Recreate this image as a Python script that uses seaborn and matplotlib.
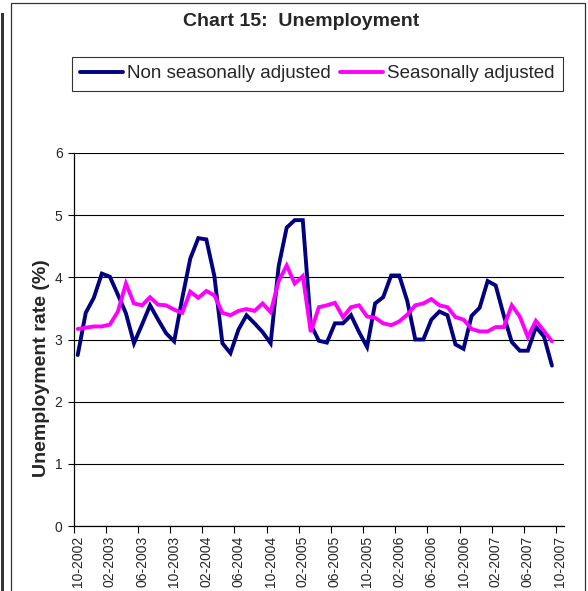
import matplotlib
matplotlib.use("Agg")
import matplotlib.pyplot as plt
from matplotlib.lines import Line2D
from matplotlib.patches import Rectangle
import numpy as np
import pandas as pd
import seaborn as sns

# Monthly unemployment rate (%), October 2002 onwards
non_seasonal = [
    2.75, 3.43, 3.67, 4.06, 4.01, 3.72, 3.42, 2.94, 3.24, 3.55,
    3.32, 3.10, 2.97, 3.66, 4.30, 4.63, 4.61, 4.02, 2.94, 2.78,
    3.16, 3.39, 3.26, 3.12, 2.94, 4.18, 4.80, 4.92, 4.92, 3.24,
    2.98, 2.95, 3.26, 3.26, 3.39, 3.12, 2.88, 3.58, 3.68, 4.03,
    4.03, 3.62, 3.00, 3.00, 3.32, 3.45, 3.39, 2.92, 2.85, 3.38,
    3.51, 3.94, 3.87, 3.39, 2.96, 2.82, 2.82, 3.20, 3.05, 2.58,
]
seasonal = [
    3.17, 3.19, 3.21, 3.21, 3.24, 3.45, 3.90, 3.58, 3.55, 3.68,
    3.56, 3.55, 3.48, 3.43, 3.77, 3.67, 3.78, 3.71, 3.43, 3.39,
    3.46, 3.49, 3.46, 3.58, 3.44, 3.94, 4.19, 3.90, 4.02, 3.12,
    3.52, 3.55, 3.59, 3.36, 3.52, 3.55, 3.37, 3.35, 3.26, 3.23,
    3.29, 3.40, 3.55, 3.58, 3.65, 3.55, 3.52, 3.36, 3.32, 3.17,
    3.13, 3.13, 3.20, 3.20, 3.55, 3.37, 3.04, 3.30, 3.14, 2.97,
]
series_names = ["Non seasonally adjusted", "Seasonally adjusted"]
series_colors = ["#000080", "#FF00FF"]

# Category axis: one slot per month, October 2002 to October 2007
months = pd.period_range("2002-10", "2007-10", freq="M")
tick_labels = [
    "10-2002", "02-2003", "06-2003", "10-2003", "02-2004", "06-2004",
    "10-2004", "02-2005", "06-2005", "10-2005", "02-2006", "06-2006",
    "10-2006", "02-2007", "06-2007", "10-2007",
]
y_ticks = [0, 1, 2, 3, 4, 5, 6]

df = pd.concat([
    pd.DataFrame({"pos": np.arange(len(non_seasonal)), "rate": non_seasonal,
                  "series": series_names[0]}),
    pd.DataFrame({"pos": np.arange(len(seasonal)), "rate": seasonal,
                  "series": series_names[1]}),
])

sns.set_style("white")
plt.rcParams["font.family"] = ["Liberation Sans", "DejaVu Sans"]

W, H = 588, 591
fig = plt.figure(figsize=(W / 100, H / 100), dpi=100)

def fx(px):
    return px / W

def fy(py):
    return 1 - py / H

ax = fig.add_axes([fx(73.7), fy(526), fx(564) - fx(73.7), fy(153) - fy(526)])

palette = dict(zip(series_names, series_colors))
sns.lineplot(data=df, x="pos", y="rate", hue="series", palette=palette,
             linewidth=2.8, ax=ax, legend=False, sort=False)
for ln in ax.lines:
    ln.set_solid_joinstyle("miter")

ax.set_xlim(-0.5, len(months) - 0.5)
ax.set_ylim(0, 6)
ax.set_xlabel("")
ax.set_ylabel("")

# horizontal gridlines
ax.set_yticks(y_ticks)
ax.set_yticklabels([str(t) for t in y_ticks], fontsize=10)
ax.yaxis.grid(True, color="black", linewidth=0.8)
ax.set_axisbelow(True)

# tick marks on slot boundaries, labels centred in the slot
ax.set_xticks(np.arange(-0.5, len(months) - 1, 4))
ax.set_xticklabels([])
ax.set_xticks(np.arange(0, len(months), 4), minor=True)
ax.set_xticklabels(tick_labels, minor=True, rotation=90, fontsize=10,
                   va="top", ha="center")
ax.tick_params(axis="x", which="major", direction="out", length=5,
               width=0.8, color="black", bottom=True)
ax.tick_params(axis="x", which="minor", length=0, pad=7, bottom=True)
ax.tick_params(axis="y", direction="out", length=4, width=0.8,
               color="black", left=True, pad=4)

for side in ("top", "right"):
    ax.spines[side].set_visible(False)
for side in ("left", "bottom"):
    ax.spines[side].set_color("black")
    ax.spines[side].set_linewidth(0.9)

# axis title and chart title
fig.text(fx(42), fy(368), "Unemployment rate (%)", rotation=90,
         ha="center", va="center", fontsize=14, fontweight="bold")
fig.text(fx(301), fy(21), "Chart 15:  Unemployment", ha="center",
         va="center", fontsize=14, fontweight="bold")

handles = [Line2D([0], [0], color=c, linewidth=2.8) for c in series_colors]
leg = fig.legend(handles, series_names, loc="center",
                 bbox_to_anchor=(fx(317.5), fy(73.5)), ncol=2, fontsize=13.5,
                 frameon=True, fancybox=False, edgecolor="black",
                 handlelength=2.3, handletextpad=0.2, columnspacing=0.5,
                 borderpad=0.45, borderaxespad=0)
leg.get_frame().set_linewidth(0.8)

# chart border and page edge
fig.add_artist(Rectangle((fx(11), fy(600)), fx(585) - fx(11), fy(3) - fy(600),
                         transform=fig.transFigure, fill=False,
                         edgecolor="#333333", linewidth=0.9, clip_on=False))
fig.add_artist(Rectangle((fx(1), fy(600)), fx(3), fy(13) - fy(600),
                         transform=fig.transFigure, facecolor="#333333",
                         edgecolor="none", clip_on=False))

fig.savefig("out.png", dpi=100)
